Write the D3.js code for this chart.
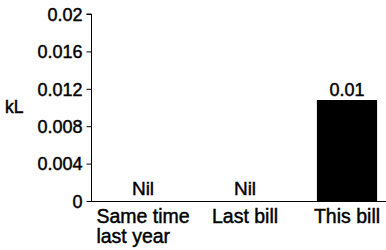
<!DOCTYPE html>
<html>
<head>
<meta charset="utf-8">
<script src="https://cdn.jsdelivr.net/npm/d3@7"></script>
<style>
    body { margin: 0; background: #fff; }
    text { font-family: "Liberation Sans", Arial, sans-serif; font-size: 18px; fill: #000; stroke: #000; stroke-width: 0.45px; }
</style>
</head>
<body>
<div id="chart"></div>
<script>
// chart data
const categories = ["Same time\nlast year", "Last bill", "This bill"];
const values = [0, 0, 0.0108];
const valueLabels = ["Nil", "Nil", "0.01"];
const yTicks = [0, 0.004, 0.008, 0.012, 0.016, 0.02];
const yTickLabels = ["0", "0.004", "0.008", "0.012", "0.016", "0.02"];

const width = 386;
const height = 250;

const svg = d3.select("#chart")
    .append("svg")
    .attr("width", width)
    .attr("height", height);

const x = d3.scaleBand()
    .domain(categories)
    .range([92, 398])
    .paddingInner(0.41)
    .paddingOuter(0.205);

const y = d3.scaleLinear()
    .domain([0, 0.02])
    .range([201, 14]);

// y axis
const yAxis = d3.axisLeft(y)
    .tickValues(yTicks)
    .tickFormat((d, i) => yTickLabels[i])
    .tickSize(5)
    .tickPadding(4);

const yg = svg.append("g")
    .attr("transform", "translate(91.5,0)")
    .call(yAxis);
yg.select(".domain").attr("d", `M-5,${y(0.02)}H0V${y(0)}`).attr("stroke", "#000");
yg.selectAll("line").attr("stroke", "#000");
yg.selectAll("text").style("font-size", "18px").attr("dy", "0.35em");

// baseline
svg.append("line")
    .attr("x1", 91)
    .attr("x2", width)
    .attr("y1", y(0) + 0.5)
    .attr("y2", y(0) + 0.5)
    .attr("stroke", "#000");

// unit label
svg.append("text")
    .attr("x", 5)
    .attr("y", 113)
    .style("font-size", "17.5px")
    .text("kL");

// bars
svg.selectAll(".bar")
    .data(values)
    .enter()
    .append("rect")
    .attr("class", "bar")
    .attr("x", (d, i) => x(categories[i]))
    .attr("width", x.bandwidth())
    .attr("y", d => y(d))
    .attr("height", d => y(0) - y(d))
    .attr("fill", "#000");

// value labels
svg.selectAll(".val")
    .data(values)
    .enter()
    .append("text")
    .attr("class", "val")
    .attr("text-anchor", "middle")
    .attr("x", (d, i) => x(categories[i]) + x.bandwidth() / 2)
    .attr("y", d => d > 0 ? y(d) - 4 : y(0) - 6)
    .style("font-size", d => d > 0 ? "18px" : "19px")
    .text((d, i) => valueLabels[i]);

// category labels, lines left aligned in a centred block
categories.forEach(cat => {
    const lines = cat.split("\n");
    const g = svg.append("g");
    const t = g.append("text").attr("y", 222.5).style("font-size", "19.5px");
    lines.forEach((line, j) => {
        t.append("tspan")
            .attr("x", 0)
            .attr("dy", j === 0 ? 0 : 20)
            .text(line);
    });
    const w = t.node().getBBox().width;
    const cx = x(cat) + x.bandwidth() / 2;
    g.attr("transform", `translate(${cx - w / 2},0)`);
});
</script>
</body>
</html>
